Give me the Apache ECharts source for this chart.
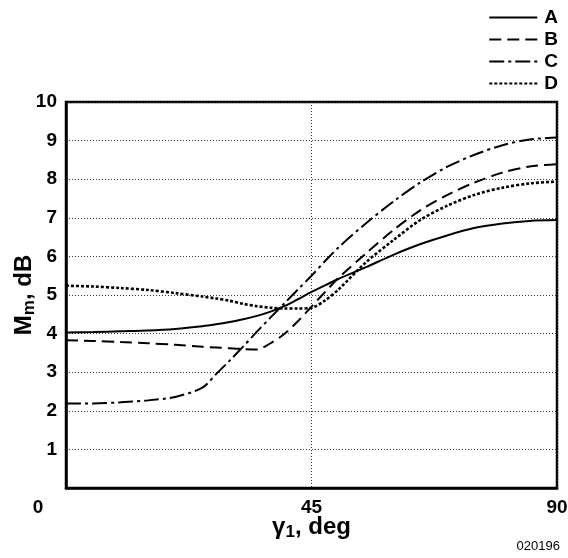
<!DOCTYPE html>
<html>
<head>
<meta charset="utf-8">
<script src="https://cdn.jsdelivr.net/npm/echarts@6/dist/echarts.min.js"></script>
<style>
  html, body { margin: 0; padding: 0; background: #fff; }
  #chart { width: 568px; height: 558px; }
</style>
</head>
<body>
<div id="chart"></div>
<script>
  // gamma1, deg
  const angles = [0, 5, 10, 15, 20, 25, 27.5, 30, 32.5, 35, 37.5, 40, 42.5, 45, 47.5, 50, 55, 60, 65, 70, 75, 80, 85, 90]
  // Mm, dB
  const valuesA = [4.03, 4.04, 4.06, 4.08, 4.12, 4.19, 4.24, 4.30, 4.37, 4.46, 4.57, 4.71, 4.89, 5.08, 5.25, 5.42, 5.72, 6.04, 6.32, 6.55, 6.74, 6.85, 6.92, 6.94]
  const valuesB = [3.83, 3.81, 3.78, 3.75, 3.71, 3.66, 3.64, 3.62, 3.60, 3.59, 3.75, 3.99, 4.32, 4.70, 5.08, 5.45, 6.08, 6.68, 7.20, 7.60, 7.92, 8.17, 8.33, 8.39]
  const valuesC = [2.19, 2.19, 2.22, 2.27, 2.36, 2.60, 2.95, 3.30, 3.67, 4.05, 4.42, 4.78, 5.14, 5.50, 5.88, 6.24, 6.86, 7.42, 7.92, 8.33, 8.64, 8.88, 9.03, 9.08]
  const valuesD = [5.24, 5.22, 5.18, 5.13, 5.05, 4.96, 4.91, 4.85, 4.77, 4.71, 4.67, 4.65, 4.65, 4.67, 4.86, 5.15, 5.85, 6.42, 6.95, 7.32, 7.60, 7.78, 7.89, 7.94]
  const seriesNames = ['A', 'B', 'C', 'D']
  const xTicks = [0, 45, 90]

  const FONT = '"Liberation Sans", Arial, Helvetica, sans-serif'

  const pairs = (ys) => angles.map((x, i) => [x, ys[i]])

  const lineTypes = ['solid', [12, 6], [15, 4, 3, 4], [3, 2]]
  const lineWidths = [2, 2, 2, 2.6]
  const allValues = [valuesA, valuesB, valuesC, valuesD]

  const chartInstance = echarts.init(document.getElementById('chart'), null, { renderer: 'canvas' })

  const option = {
    animation: false,
    backgroundColor: '#fff',
    textStyle: { fontFamily: FONT },
    grid: {
      left: 66,
      right: 11,
      top: 102,
      bottom: 70,
      outerBoundsMode: 'none',
      containLabel: false,
      show: true,
      borderColor: '#000',
      borderWidth: 2.5,
      backgroundColor: 'transparent'
    },
    legend: {
      orient: 'vertical',
      right: 5,
      top: 3,
      itemWidth: 48,
      itemHeight: 14,
      itemGap: 3,
      data: seriesNames,
      itemStyle: { color: 'rgba(0,0,0,0)', borderColor: 'rgba(0,0,0,0)', borderWidth: 0 },
      textStyle: { fontFamily: FONT, fontWeight: 'bold', fontSize: 19, color: '#000', padding: [0, 0, 0, 2] }
    },
    xAxis: {
      type: 'value',
      min: 0,
      max: 90,
      interval: 45,
      name: '{g|γ}{sub|1}{g|, deg}',
      nameLocation: 'middle',
      nameGap: 26,
      nameMoveOverlap: false,
      nameTextStyle: {
        rich: {
          g: { fontFamily: FONT, fontWeight: 'bold', fontSize: 24, color: '#000' },
          sub: { fontFamily: FONT, fontWeight: 'bold', fontSize: 17, color: '#000', verticalAlign: 'bottom', padding: [10, 0, 0, 0] }
        }
      },
      axisLine: { show: true, lineStyle: { color: '#000', width: 2.5 } },
      axisTick: { show: false },
      axisLabel: {
        margin: 10,
        fontFamily: FONT,
        fontWeight: 'bold',
        fontSize: 19,
        color: '#000',
        formatter: (v) => v === xTicks[0] ? '{z|0}' : String(v),
        rich: {
          z: { fontFamily: FONT, fontWeight: 'bold', fontSize: 19, color: '#000', padding: [0, 56, 0, 0] }
        }
      },
      splitLine: { show: true, lineStyle: { color: '#333', type: [1, 2], width: 1 } }
    },
    yAxis: {
      type: 'value',
      min: 0,
      max: 10,
      interval: 1,
      name: '{m|M}{sub|m}{m|, dB}',
      nameLocation: 'middle',
      nameRotate: 90,
      nameGap: 28,
      nameMoveOverlap: false,
      nameTextStyle: {
        rich: {
          m: { fontFamily: FONT, fontWeight: 'bold', fontSize: 24, color: '#000' },
          sub: { fontFamily: FONT, fontWeight: 'bold', fontSize: 17, color: '#000', padding: [10, 0, 0, 0] }
        }
      },
      axisLine: { show: true, lineStyle: { color: '#000', width: 2.5 } },
      axisTick: { show: false },
      axisLabel: {
        showMinLabel: false,
        margin: 9,
        fontFamily: FONT,
        fontWeight: 'bold',
        fontSize: 19,
        color: '#000'
      },
      splitLine: { show: true, lineStyle: { color: '#333', type: [1, 2], width: 1 } }
    },
    graphic: [
      {
        type: 'text',
        right: 8,
        bottom: 5,
        style: { text: '020196', fontFamily: FONT, fontSize: 13, fill: '#000' }
      }
    ],
    series: seriesNames.map((name, i) => ({
      name: name,
      type: 'line',
      data: pairs(allValues[i]),
      smooth: 0.3,
      showSymbol: false,
      symbol: 'none',
      z: 3,
      lineStyle: { color: '#000', width: lineWidths[i], type: lineTypes[i] },
      itemStyle: { color: '#000' }
    }))
  }

  chartInstance.setOption(option)
</script>
</body>
</html>
